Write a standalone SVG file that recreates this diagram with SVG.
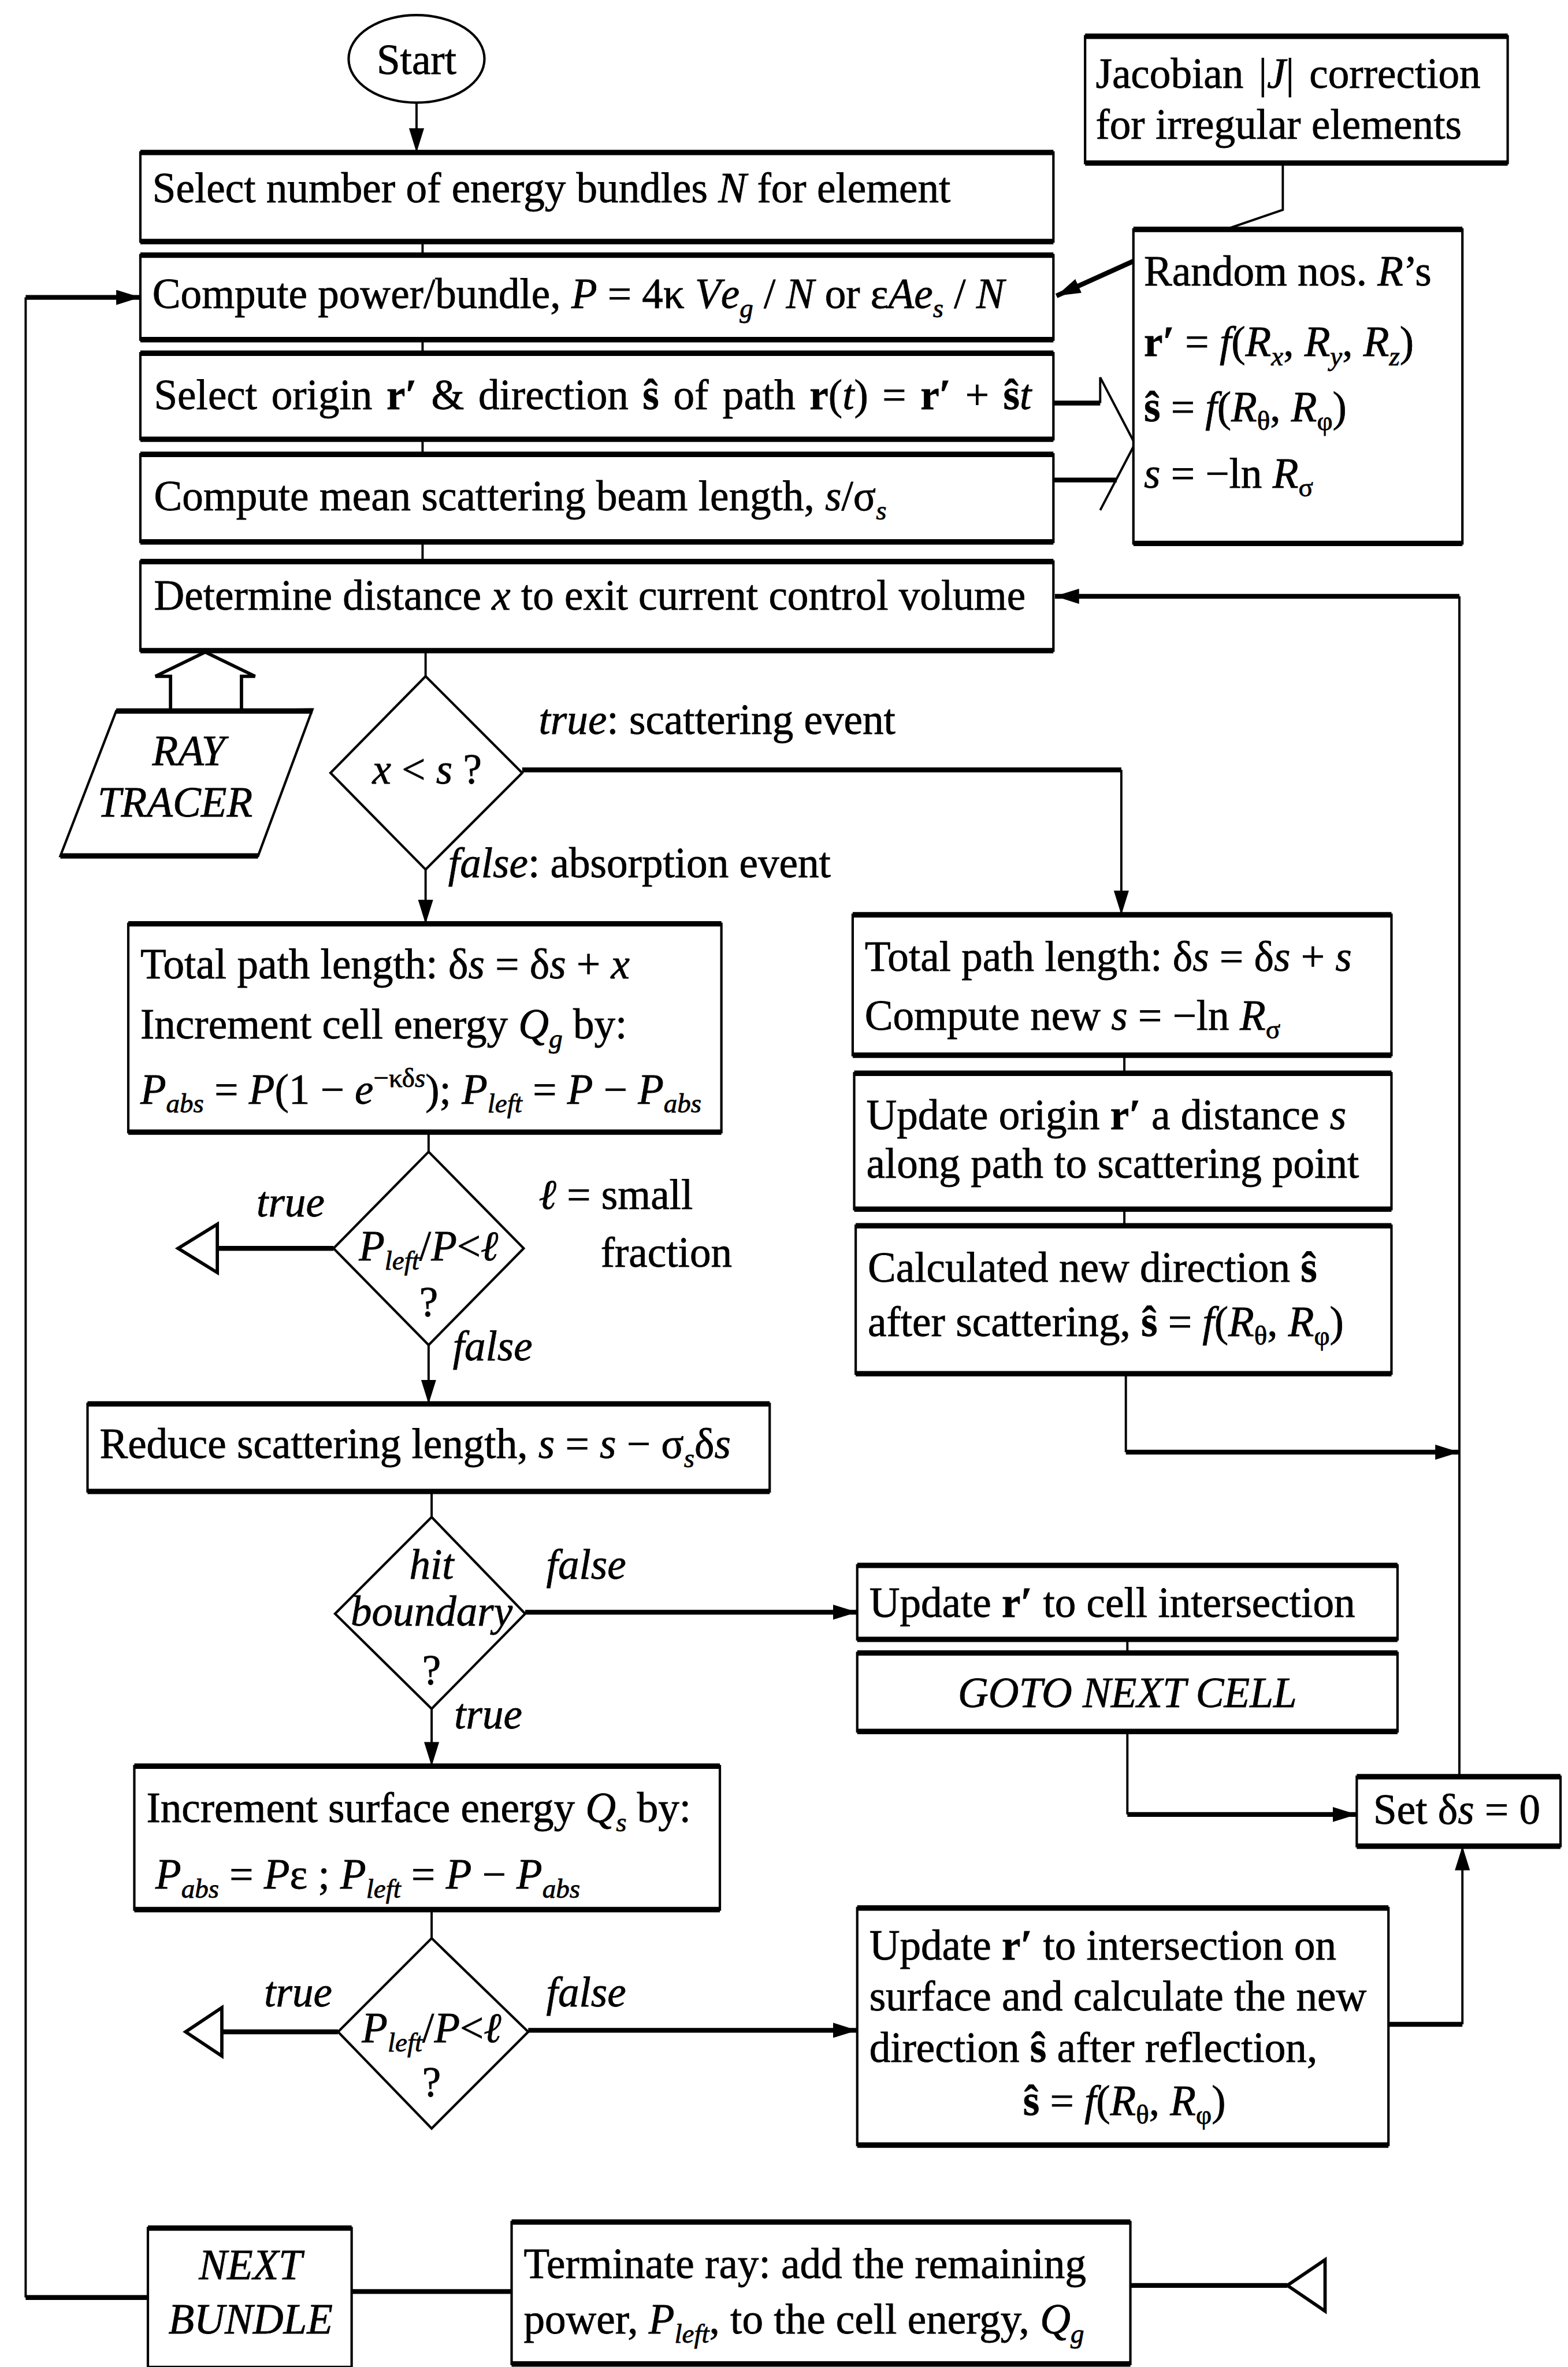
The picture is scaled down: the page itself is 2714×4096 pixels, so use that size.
<svg xmlns="http://www.w3.org/2000/svg" width="2714" height="4096" viewBox="0 0 2714 4096">
<style>
  .t { font-family: "Liberation Serif", "Times New Roman", serif; font-size: 28px; fill: #000; stroke: #000; stroke-width: 0.3; }
  .i { font-style: italic; }
  .b { font-weight: bold; }
  .sm { font-size: 18px; }
  .box { fill: #fff; stroke: #000; stroke-width: 1.6; }
  .edge { fill: none; stroke: #000; stroke-width: 3.6; }
  .v { fill: none; stroke: #000; stroke-width: 1.5; }
  .h { fill: none; stroke: #000; stroke-width: 3.2; }
  .open { fill: #fff; stroke: #000; stroke-width: 2.2; stroke-linejoin: miter; }
</style>
<defs>
  <marker id="arr" markerUnits="userSpaceOnUse" viewBox="0 0 16 10" markerWidth="16" markerHeight="10" refX="16" refY="5" orient="auto">
    <path d="M0,0 L16,5 L0,10 z" fill="#000"/>
  </marker>
</defs>
<rect width="2714" height="4096" fill="#fff"/>
<g transform="scale(2.6122)">

<!-- connectors -->
<g id="connectors">
  <path class="v" d="M276,68 V101" marker-end="url(#arr)"/>
  <path class="v" d="M280,160 V169 M280,225 V234 M280,291 V301 M280,359 V372"/>
  <path class="v" d="M282,431 V448"/>
  <path class="v" d="M850,108 V139 L812,152"/>
  <path class="h" d="M751,173 L700,196" marker-end="url(#arr)"/>
  <path class="h" d="M698,267 H729"/>
  <path class="v" d="M729,267 V250 L752,294 L729,338"/>
  <path class="h" d="M698,318 H740"/>
  <path class="open" d="M113,471 V448 H103 L136,432 L169,448 H160 V471"/>
  <path class="h" d="M346,510 H743"/>
  <path class="v" d="M743,510 V606" marker-end="url(#arr)"/>
  <path class="v" d="M282,576 V612" marker-end="url(#arr)"/>
  <path class="v" d="M284,750 V763"/>
  <path class="h" d="M221,827 H144"/>
  <polygon class="open" points="144,811 118,827 144,843"/>
  <path class="v" d="M284,891 V930" marker-end="url(#arr)"/>
  <path class="v" d="M745,699 V711 M745,801 V812"/>
  <path class="v" d="M746,910 V962"/>
  <path class="h" d="M746,962 H967" marker-end="url(#arr)"/>
  <path class="v" d="M967,1178 V395"/>
  <path class="h" d="M967,395 H699" marker-end="url(#arr)"/>
  <path class="v" d="M286,988 V1005"/>
  <path class="h" d="M348,1068 H568" marker-end="url(#arr)"/>
  <path class="v" d="M286,1132 V1170" marker-end="url(#arr)"/>
  <path class="v" d="M747,1086 V1095"/>
  <path class="v" d="M747,1147 V1202"/>
  <path class="h" d="M747,1202 H899" marker-end="url(#arr)"/>
  <path class="v" d="M286,1265 V1284"/>
  <path class="h" d="M224,1346 H147"/>
  <polygon class="open" points="147,1330 123,1346 147,1362"/>
  <path class="h" d="M350,1345 H568" marker-end="url(#arr)"/>
  <path class="h" d="M920,1341 H969"/>
  <path class="v" d="M969,1341 V1223" marker-end="url(#arr)"/>
  <path class="h" d="M98,1522 H17"/>
  <path class="v" d="M17,1522 V197"/>
  <path class="h" d="M17,197 H93" marker-end="url(#arr)"/>
  <path class="h" d="M233,1518 H339"/>
  <path class="h" d="M749,1514 H853"/>
  <polygon class="open" points="878,1497 853,1514 878,1531"/>
</g>

<!-- nodes -->
<g id="start">
  <ellipse class="box" cx="276" cy="39" rx="45" ry="29"/>
  <text class="t" x="276" y="49" text-anchor="middle">Start</text>
</g>

<g id="jacobian">
  <rect class="box" x="719" y="24" width="280" height="84"/>
  <path class="edge" d="M719,24 H999 M719,108 H999"/>
  <text class="t" x="726" y="58" word-spacing="3">Jacobian |<tspan class="i">J</tspan>| correction</text>
  <text class="t" x="726" y="92">for irregular elements</text>
</g>

<g id="select-bundles">
  <rect class="box" x="93" y="101" width="605" height="59"/>
  <path class="edge" d="M93,101 H698 M93,160 H698"/>
  <text class="t" x="101" y="134">Select number of energy bundles <tspan class="i">N</tspan> for element</text>
</g>

<g id="compute-power">
  <rect class="box" x="93" y="169" width="605" height="56"/>
  <path class="edge" d="M93,169 H698 M93,225 H698"/>
  <text class="t" x="101" y="204">Compute power/bundle,  <tspan class="i">P</tspan> = 4κ <tspan class="i">V</tspan><tspan class="i">e</tspan><tspan class="i sm" dy="6">g</tspan><tspan dy="-6"> / </tspan><tspan class="i">N</tspan> or ε<tspan class="i">Ae</tspan><tspan class="i sm" dy="6">s</tspan><tspan dy="-6"> / </tspan><tspan class="i">N</tspan></text>
</g>

<g id="select-origin">
  <rect class="box" x="93" y="234" width="605" height="57"/>
  <path class="edge" d="M93,234 H698 M93,291 H698"/>
  <text class="t" x="102" y="271" word-spacing="2.4">Select origin  <tspan class="b">r′</tspan>  &amp; direction  <tspan class="b">ŝ</tspan>  of path  <tspan class="b">r</tspan>(<tspan class="i">t</tspan>) = <tspan class="b">r′</tspan> + <tspan class="b">ŝ</tspan><tspan class="i">t</tspan></text>
</g>

<g id="mean-beam">
  <rect class="box" x="93" y="301" width="605" height="58"/>
  <path class="edge" d="M93,301 H698 M93,359 H698"/>
  <text class="t" x="102" y="338">Compute mean scattering beam length,  <tspan class="i">s</tspan>/σ<tspan class="i sm" dy="6">s</tspan></text>
</g>

<g id="random">
  <rect class="box" x="751" y="152" width="218" height="208"/>
  <path class="edge" d="M751,152 H969 M751,360 H969"/>
  <text class="t" x="758" y="189">Random nos. <tspan class="i">R</tspan>’s</text>
  <text class="t" x="758" y="236"><tspan class="b">r′</tspan> = <tspan class="i">f</tspan>(<tspan class="i">R</tspan><tspan class="i sm" dy="6">x</tspan><tspan dy="-6">, </tspan><tspan class="i">R</tspan><tspan class="i sm" dy="6">y</tspan><tspan dy="-6">, </tspan><tspan class="i">R</tspan><tspan class="i sm" dy="6">z</tspan><tspan dy="-6">)</tspan></text>
  <text class="t" x="758" y="279"><tspan class="b">ŝ</tspan> = <tspan class="i">f</tspan>(<tspan class="i">R</tspan><tspan class="sm" dy="6">θ</tspan><tspan dy="-6">, </tspan><tspan class="i">R</tspan><tspan class="sm" dy="6">φ</tspan><tspan dy="-6">)</tspan></text>
  <text class="t" x="758" y="323"><tspan class="i">s</tspan> = −ln <tspan class="i">R</tspan><tspan class="sm" dy="6">σ</tspan></text>
</g>

<g id="determine">
  <rect class="box" x="93" y="372" width="605" height="59"/>
  <path class="edge" d="M93,372 H698 M93,431 H698"/>
  <text class="t" x="102" y="404">Determine distance <tspan class="i">x</tspan> to exit current control volume</text>
</g>

<g id="ray-tracer">
  <polygon class="box" points="77,471 207,470 171,567 40,567"/>
  <path class="edge" d="M77,471 H207 M40,567 H171"/>
  <text class="t i" x="125" y="507" text-anchor="middle">RAY</text>
  <text class="t i" x="116" y="541" text-anchor="middle">TRACER</text>
</g>

<g id="test-scatter">
  <polygon class="box" points="282,448 346,512 282,576 219,512"/>
  <text class="t" x="283" y="519" text-anchor="middle"><tspan class="i">x</tspan> &lt; <tspan class="i">s</tspan> ?</text>
  <text class="t" x="357" y="486"><tspan class="i">true</tspan>: scattering event</text>
  <text class="t" x="297" y="581"><tspan class="i">false</tspan>: absorption event</text>
</g>

<g id="absorb">
  <rect class="box" x="85" y="612" width="393" height="138"/>
  <path class="edge" d="M85,612 H478 M85,750 H478"/>
  <text class="t" x="93" y="648">Total path length:  δ<tspan class="i">s</tspan> = δ<tspan class="i">s</tspan> + <tspan class="i">x</tspan></text>
  <text class="t" x="93" y="688">Increment cell energy  <tspan class="i">Q</tspan><tspan class="i sm" dy="6">g</tspan><tspan dy="-6">  by:</tspan></text>
  <text class="t" x="93" y="731"><tspan class="i">P</tspan><tspan class="i sm" dy="6">abs</tspan><tspan dy="-6"> = </tspan><tspan class="i">P</tspan>(1 − <tspan class="i">e</tspan><tspan class="sm" dy="-11">−κδ</tspan><tspan class="i sm">s</tspan><tspan dy="11">); </tspan><tspan class="i">P</tspan><tspan class="i sm" dy="6">left</tspan><tspan dy="-6"> = </tspan><tspan class="i">P</tspan> − <tspan class="i">P</tspan><tspan class="i sm" dy="6">abs</tspan></text>
</g>

<g id="scatter-path">
  <rect class="box" x="565" y="606" width="357" height="93"/>
  <path class="edge" d="M565,606 H922 M565,699 H922"/>
  <text class="t" x="573" y="643">Total path length:  δ<tspan class="i">s</tspan> = δ<tspan class="i">s</tspan> + <tspan class="i">s</tspan></text>
  <text class="t" x="573" y="682">Compute new  <tspan class="i">s</tspan> = −ln <tspan class="i">R</tspan><tspan class="sm" dy="6">σ</tspan></text>
</g>

<g id="update-origin">
  <rect class="box" x="566" y="711" width="356" height="90"/>
  <path class="edge" d="M566,711 H922 M566,801 H922"/>
  <text class="t" x="574" y="748">Update origin <tspan class="b">r′</tspan> a distance <tspan class="i">s</tspan></text>
  <text class="t" x="574" y="780">along path to scattering point</text>
</g>

<g id="new-direction">
  <rect class="box" x="567" y="812" width="355" height="98"/>
  <path class="edge" d="M567,812 H922 M567,910 H922"/>
  <text class="t" x="575" y="849">Calculated new direction <tspan class="b">ŝ</tspan></text>
  <text class="t" x="575" y="885">after scattering, <tspan class="b">ŝ</tspan> = <tspan class="i">f</tspan>(<tspan class="i">R</tspan><tspan class="sm" dy="6">θ</tspan><tspan dy="-6">, </tspan><tspan class="i">R</tspan><tspan class="sm" dy="6">φ</tspan><tspan dy="-6">)</tspan></text>
</g>

<g id="test-left-1">
  <polygon class="box" points="284,763 347,827 284,891 221,827"/>
  <text class="t" x="284" y="835" text-anchor="middle"><tspan class="i">P</tspan><tspan class="i sm" dy="6">left</tspan><tspan dy="-6">/</tspan><tspan class="i">P</tspan>&lt;<tspan class="i">ℓ</tspan></text>
  <text class="t" x="284" y="872" text-anchor="middle">?</text>
  <text class="t i" x="170" y="806">true</text>
  <text class="t" x="357" y="801"><tspan class="i">ℓ</tspan> = small</text>
  <text class="t" x="398" y="839">fraction</text>
  <text class="t i" x="300" y="901">false</text>
</g>

<g id="reduce">
  <rect class="box" x="58" y="930" width="452" height="58"/>
  <path class="edge" d="M58,930 H510 M58,988 H510"/>
  <text class="t" x="66" y="966">Reduce scattering length,  <tspan class="i">s</tspan> = <tspan class="i">s</tspan> − σ<tspan class="i sm" dy="6">s</tspan><tspan dy="-6">δ</tspan><tspan class="i">s</tspan></text>
</g>

<g id="test-boundary">
  <polygon class="box" points="286,1005 348,1069 286,1132 222,1069"/>
  <text class="t i" x="286" y="1046" text-anchor="middle">hit</text>
  <text class="t i" x="286" y="1077" text-anchor="middle" font-size="26">boundary</text>
  <text class="t" x="286" y="1116" text-anchor="middle">?</text>
  <text class="t i" x="362" y="1046">false</text>
  <text class="t i" x="301" y="1145">true</text>
</g>

<g id="update-cell">
  <rect class="box" x="568" y="1037" width="358" height="49"/>
  <path class="edge" d="M568,1037 H926 M568,1086 H926"/>
  <text class="t" x="576" y="1071">Update <tspan class="b">r′</tspan> to cell intersection</text>
</g>

<g id="goto-next">
  <rect class="box" x="568" y="1095" width="358" height="52"/>
  <path class="edge" d="M568,1095 H926 M568,1147 H926"/>
  <text class="t i" x="747" y="1131" text-anchor="middle">GOTO NEXT CELL</text>
</g>

<g id="set-ds">
  <rect class="box" x="899" y="1177" width="135" height="46"/>
  <path class="edge" d="M899,1177 H1034 M899,1223 H1034"/>
  <text class="t" x="910" y="1208">Set δ<tspan class="i">s</tspan> = 0</text>
</g>

<g id="surface">
  <rect class="box" x="89" y="1170" width="388" height="95"/>
  <path class="edge" d="M89,1170 H477 M89,1265 H477"/>
  <text class="t" x="97" y="1207">Increment surface energy <tspan class="i">Q</tspan><tspan class="i sm" dy="6">s</tspan><tspan dy="-6"> by:</tspan></text>
  <text class="t" x="103" y="1251"><tspan class="i">P</tspan><tspan class="i sm" dy="6">abs</tspan><tspan dy="-6"> = </tspan><tspan class="i">P</tspan>ε ;  <tspan class="i">P</tspan><tspan class="i sm" dy="6">left</tspan><tspan dy="-6"> = </tspan><tspan class="i">P</tspan> − <tspan class="i">P</tspan><tspan class="i sm" dy="6">abs</tspan></text>
</g>

<g id="test-left-2">
  <polygon class="box" points="286,1284 350,1346 286,1410 224,1346"/>
  <text class="t" x="286" y="1353" text-anchor="middle"><tspan class="i">P</tspan><tspan class="i sm" dy="6">left</tspan><tspan dy="-6">/</tspan><tspan class="i">P</tspan>&lt;<tspan class="i">ℓ</tspan></text>
  <text class="t" x="286" y="1389" text-anchor="middle">?</text>
  <text class="t i" x="175" y="1329">true</text>
  <text class="t i" x="362" y="1329">false</text>
</g>

<g id="reflect">
  <rect class="box" x="568" y="1264" width="352" height="157"/>
  <path class="edge" d="M568,1264 H920 M568,1421 H920"/>
  <text class="t" x="576" y="1298">Update <tspan class="b">r′</tspan> to intersection on</text>
  <text class="t" x="576" y="1332">surface and calculate the new</text>
  <text class="t" x="576" y="1366">direction <tspan class="b">ŝ</tspan> after reflection,</text>
  <text class="t" x="745" y="1401" text-anchor="middle"><tspan class="b">ŝ</tspan> = <tspan class="i">f</tspan>(<tspan class="i">R</tspan><tspan class="sm" dy="6">θ</tspan><tspan dy="-6">, </tspan><tspan class="i">R</tspan><tspan class="sm" dy="6">φ</tspan><tspan dy="-6">)</tspan></text>
</g>

<g id="next-bundle">
  <rect class="box" x="98" y="1476" width="135" height="92"/>
  <path class="edge" d="M98,1476 H233"/>
  <text class="t i" x="166" y="1510" text-anchor="middle">NEXT</text>
  <text class="t i" x="166" y="1546" text-anchor="middle">BUNDLE</text>
</g>

<g id="terminate">
  <rect class="box" x="339" y="1472" width="410" height="94"/>
  <path class="edge" d="M339,1472 H749 M339,1566 H749"/>
  <text class="t" x="347" y="1509">Terminate ray: add the remaining</text>
  <text class="t" x="347" y="1546">power, <tspan class="i">P</tspan><tspan class="i sm" dy="6">left</tspan><tspan dy="-6">, to the cell energy, </tspan><tspan class="i">Q</tspan><tspan class="i sm" dy="6">g</tspan></text>
</g>

</g>
</svg>
